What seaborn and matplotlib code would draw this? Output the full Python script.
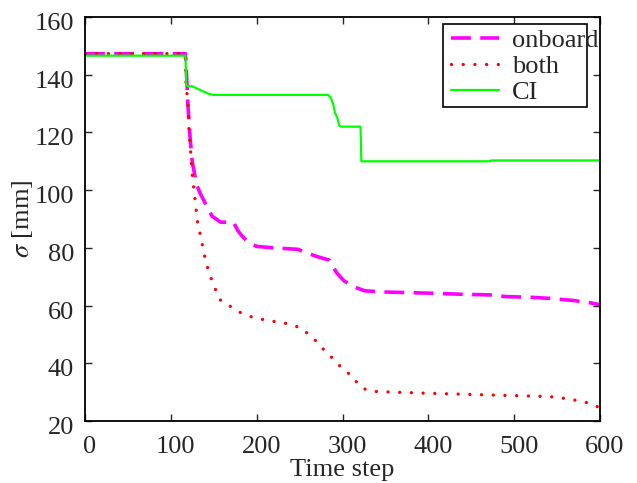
import numpy as np
import pandas as pd
import matplotlib
matplotlib.use("Agg")
import matplotlib.pyplot as plt
import matplotlib.transforms as mtransforms
from matplotlib.patches import Rectangle
import seaborn as sns

# ---- data ----
ci_steps = [0, 117, 118, 121, 125, 130, 137, 145, 150, 283, 286, 289, 291, 294, 296, 298, 321, 322, 472, 473, 600]
ci_vals = [146.6, 146.6, 136.2, 136.0, 136.0, 135.3, 134.3, 133.3, 133.0, 133.0, 132.2, 130.0, 127.0, 125.0, 122.5, 122.0, 122.0, 110.0, 110.0, 110.3, 110.3]

onboard_steps = [0, 117, 118, 120, 122.6, 125, 130, 134, 140, 148, 158, 173, 178, 183, 190, 200, 220, 248, 268, 285, 290, 293, 302, 316, 326, 349, 402, 441, 472, 491, 518, 541, 568, 586, 600]
onboard_vals = [147.3, 147.3, 142.0, 129.0, 117.6, 109.7, 102.0, 99.0, 95.5, 91.0, 88.9, 88.9, 86.0, 84.1, 82.0, 80.5, 80.0, 79.5, 77.2, 75.7, 73.0, 71.4, 68.5, 66.2, 65.1, 64.7, 64.3, 63.9, 63.7, 63.1, 62.9, 62.5, 61.8, 61.1, 60.3]

both_steps = [0, 117, 117.6, 120, 121, 123, 125, 128, 131, 134, 139.5, 143, 147, 152, 158, 168, 178, 190, 202, 215, 228, 241, 252, 262, 270, 275.5, 284, 293, 302, 312, 318, 328, 340, 400, 450, 500, 540, 560, 575, 590, 600]
both_vals = [147.3, 147.3, 137.3, 129.8, 121.7, 113.6, 105.2, 97.1, 89.1, 85.0, 77.0, 73.0, 69.4, 65.6, 61.8, 60.0, 58.0, 56.4, 55.5, 54.7, 54.2, 53.4, 52.1, 49.7, 47.5, 45.5, 43.1, 40.3, 37.5, 35.5, 32.7, 30.7, 30.2, 29.6, 29.2, 28.8, 28.5, 27.8, 27.0, 26.0, 24.5]

x_ticks = [0, 100, 200, 300, 400, 500, 600]
y_ticks = [20, 40, 60, 80, 100, 120, 140, 160]

sns.set_style("ticks")
plt.rcParams['font.family'] = ['Liberation Serif', 'DejaVu Serif']
plt.rcParams['mathtext.fontset'] = 'stix'
FS = 19

fig = plt.figure(figsize=(6.37, 4.83), dpi=100)
# axes box: x 85..600 px, y 17..421 px
ax = fig.add_axes([85 / 637, 1 - 421 / 483, 515 / 637, 404 / 483])

sns.lineplot(x=onboard_steps, y=onboard_vals, ax=ax, color='#ff00ff', lw=2.6,
             label='onboard', sort=False, estimator=None)
ax.lines[-1].set_dashes((5.5, 2.6))
sns.lineplot(x=both_steps, y=both_vals, ax=ax, color='#ff0000', lw=2.4,
             label='both', sort=False, estimator=None)
ax.lines[-1].set_dashes((0.01, 3.5))
ax.lines[-1].set_dash_capstyle('round')
sns.lineplot(x=ci_steps, y=ci_vals, ax=ax, color='#00ff00', lw=1.6,
             label='CI', sort=False, estimator=None)

ax.set_xlim(0, 600)
ax.set_ylim(20, 160)
ax.set_xticks(x_ticks)
ax.set_yticks(y_ticks)
ax.tick_params(direction='in', length=5, width=1, top=True, right=True,
               labelsize=FS)
ax.tick_params(axis='x', pad=10.5)
ax.tick_params(axis='y', pad=8)
for s in ax.spines.values():
    s.set_linewidth(1.3)
    s.set_color('black')
ax.set_xlabel('Time step', fontsize=FS)
ax.set_ylabel(r'$\sigma$ [mm]', fontsize=FS)
ax.xaxis.set_label_coords(0.5, -0.093)
ax.yaxis.set_label_coords(-0.097, 0.5)

# tick labels sit slightly offset from their ticks in the reference
off = mtransforms.ScaledTranslation(0, -0.045, fig.dpi_scale_trans)
for lab in ax.get_yticklabels():
    lab.set_transform(lab.get_transform() + off)
offx = mtransforms.ScaledTranslation(0.045, 0, fig.dpi_scale_trans)
for lab in ax.get_xticklabels():
    lab.set_transform(lab.get_transform() + offx)

# legend frame (narrower than the text, as in the reference)
bx0, bx1 = (443 - 85) / 515, (587 - 85) / 515
by0, by1 = (421 - 107) / 404, (421 - 24) / 404
ax.add_patch(Rectangle((bx0, by0), bx1 - bx0, by1 - by0, transform=ax.transAxes,
                       facecolor='white', edgecolor='black', lw=1.2, zorder=4))
leg = ax.legend(loc='upper left', bbox_to_anchor=(bx0, by1 + 3 / 404), borderaxespad=0,
                fontsize=FS, frameon=False, handlelength=1.82, handletextpad=0.49,
                labelspacing=0.09, borderpad=0.3)
leg.set_zorder(5)

fig.savefig('out.png', dpi=100)
